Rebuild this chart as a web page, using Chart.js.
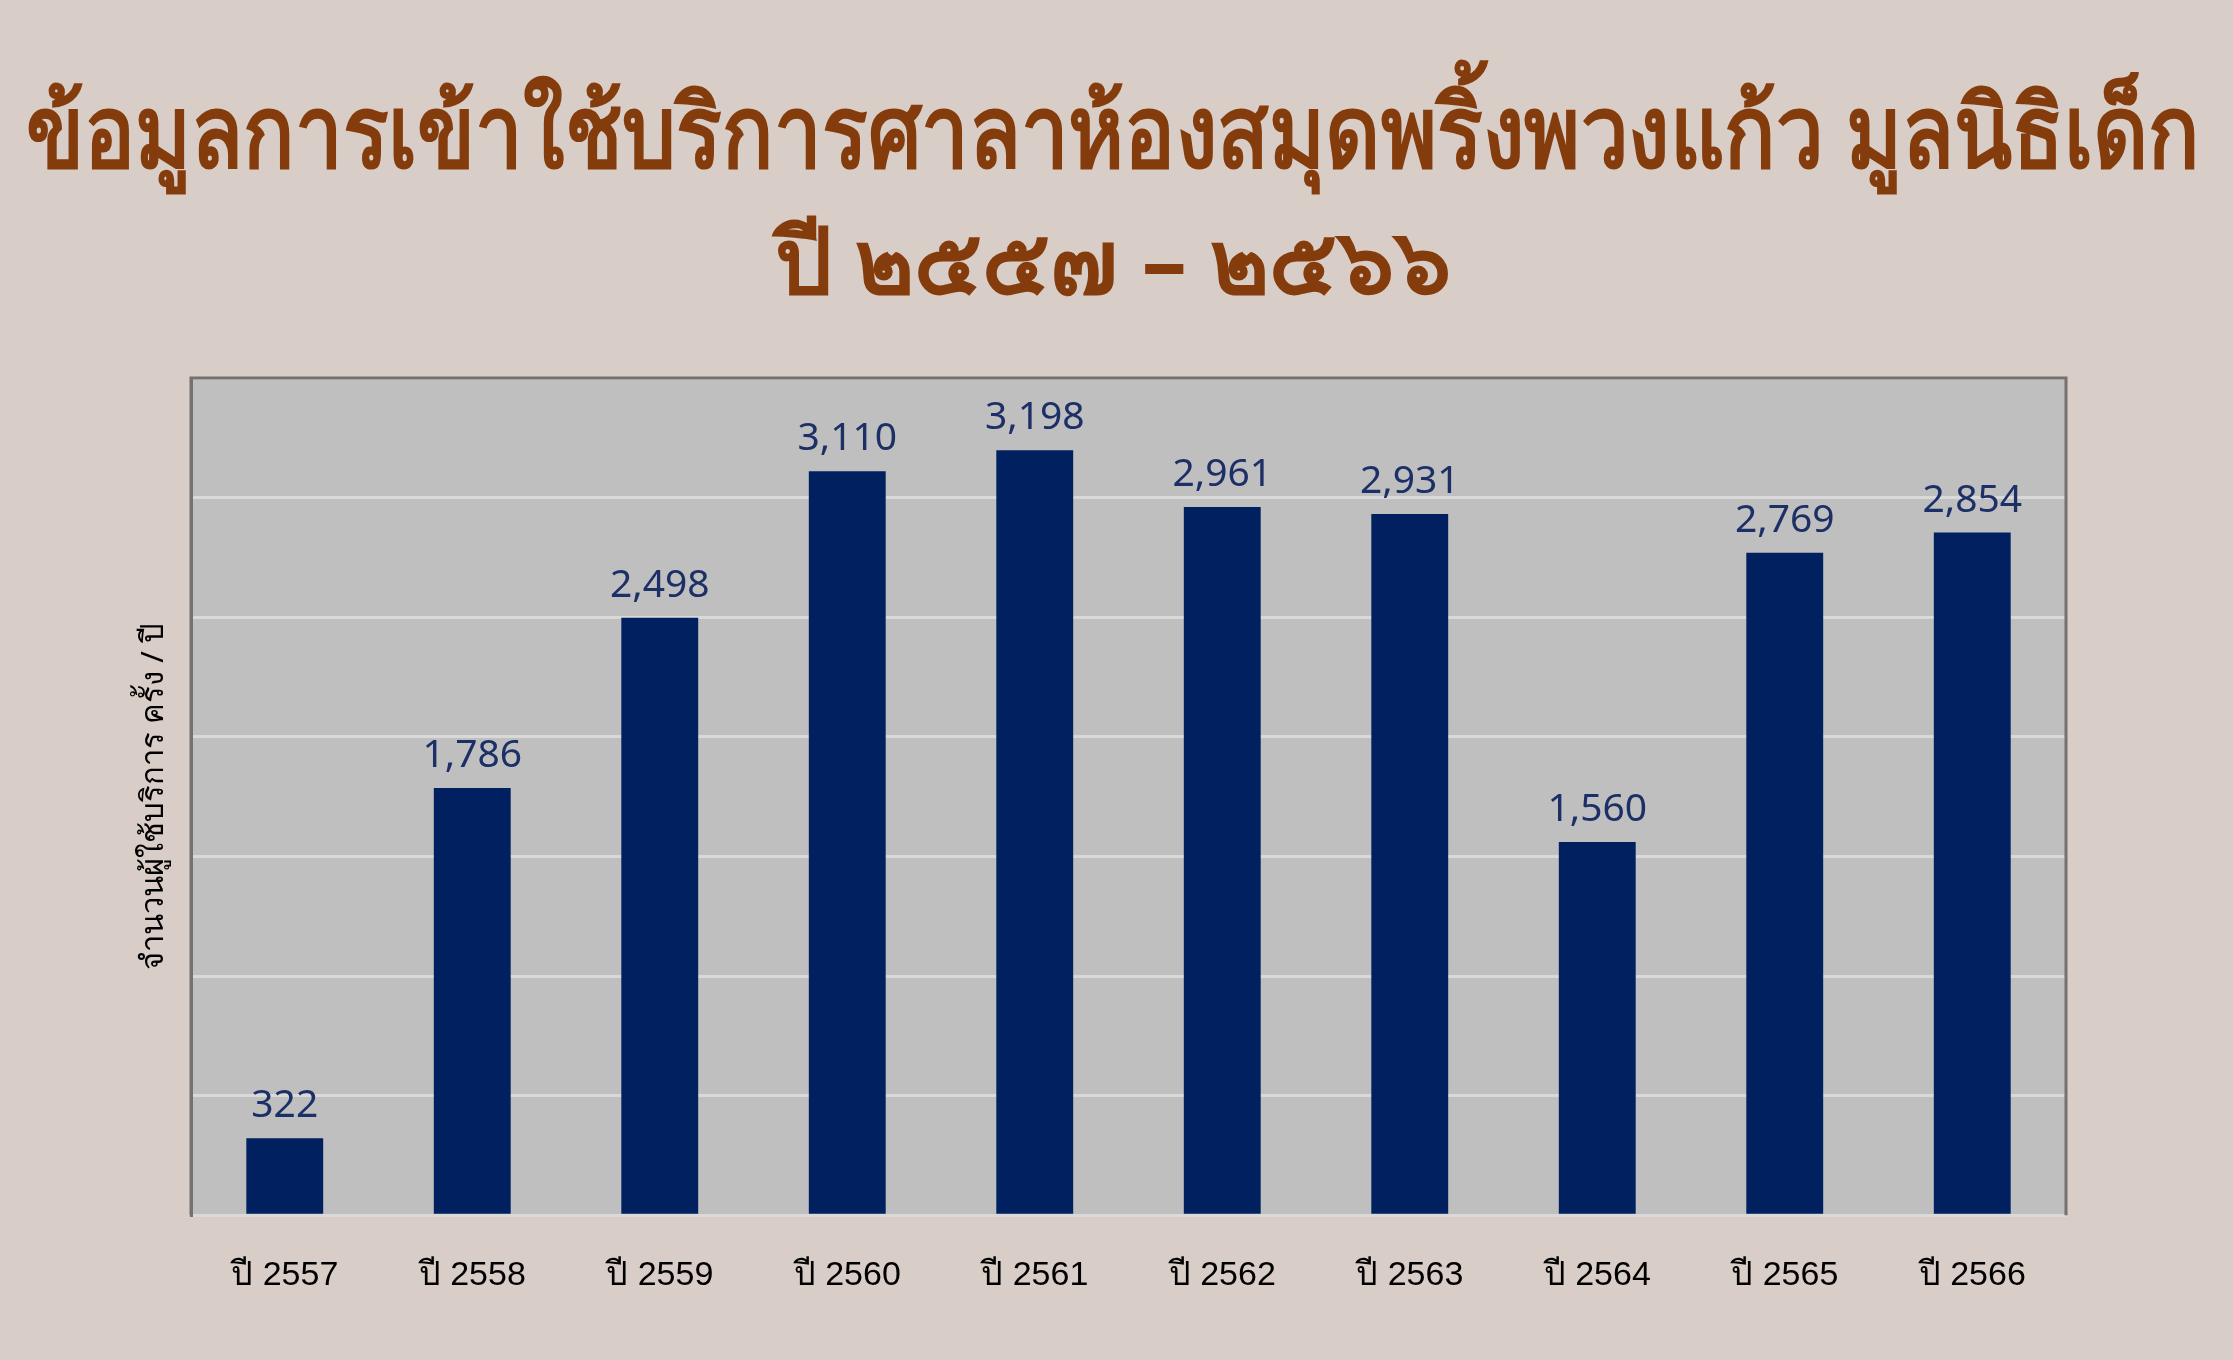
<!DOCTYPE html>
<html>
<head>
<meta charset="utf-8">
<script src="https://cdn.jsdelivr.net/npm/chart.js@4.4.1/dist/chart.umd.min.js"></script>
<style>
  html, body { margin: 0; padding: 0; background: #d9cdc7; }
  canvas { display: block; }
</style>
</head>
<body>
<canvas id="chart" width="2233" height="1360"></canvas>
<script>
// data
var years = ['ปี 2557', 'ปี 2558', 'ปี 2559', 'ปี 2560', 'ปี 2561', 'ปี 2562', 'ปี 2563', 'ปี 2564', 'ปี 2565', 'ปี 2566'];
var visits = [322, 1786, 2498, 3110, 3198, 2961, 2931, 1560, 2769, 2854];
var titleText = 'ข้อมูลการเข้าใช้บริการศาลาห้องสมุดพริ้งพวงแก้ว มูลนิธิเด็ก';
var subtitleText = 'ปี ๒๕๕๗ – ๒๕๖๖';
var yTitle = 'จำนวนผู้ใช้บริการ ครั้ง / ปี';

// grey plot box with dark frame on top / left / right
var plotBox = {
    id: 'plotBox',
    beforeDraw: function(chart) {
        var a = chart.chartArea;
        var ctx = chart.ctx;
        ctx.save();
        ctx.fillStyle = '#bfbfbf';
        ctx.fillRect(a.left, a.top, a.right - a.left, a.bottom - a.top);
        ctx.restore();
    },
    afterDraw: function(chart) {
        var a = chart.chartArea;
        var ctx = chart.ctx;
        ctx.save();
        ctx.strokeStyle = '#767171';
        ctx.lineWidth = 3;
        ctx.beginPath();
        ctx.moveTo(a.left, a.bottom);
        ctx.lineTo(a.left, a.top);
        ctx.lineTo(a.right, a.top);
        ctx.lineTo(a.right, a.bottom);
        ctx.stroke();
        ctx.restore();
    }
};

// value labels above the bars
var barLabels = {
    id: 'barLabels',
    afterDatasetsDraw: function(chart) {
        var ctx = chart.ctx;
        var meta = chart.getDatasetMeta(0);
        ctx.save();
        ctx.font = '39px "Noto Sans", sans-serif';
        ctx.fillStyle = '#1c2f66';
        ctx.textAlign = 'center';
        ctx.textBaseline = 'alphabetic';
        meta.data.forEach(function(bar, i) {
            ctx.fillText(visits[i].toLocaleString('en-US'), bar.x, bar.y - 21);
        });
        ctx.restore();
    }
};

var ctx = document.getElementById('chart').getContext('2d');
var chart = new Chart(ctx, {
    type: 'bar',
    data: {
        labels: years,
        datasets: [{
            data: visits,
            backgroundColor: '#002060',
            borderWidth: 0,
            categoryPercentage: 1,
            barPercentage: 0.41
        }]
    },
    options: {
        responsive: false,
        animation: false,
        devicePixelRatio: 1,
        layout: {
            // left/right padding also limits the title width
            padding: { left: 26, right: 33, top: 0, bottom: 24 }
        },
        plugins: {
            legend: { display: false },
            tooltip: { enabled: false },
            title: {
                display: true,
                text: titleText,
                color: '#843c0c',
                font: { size: 100, weight: 'bold', family: 'Tahoma, "Noto Sans", sans-serif', lineHeight: '128px' },
                padding: { top: 75, bottom: 0 }
            },
            subtitle: {
                display: true,
                text: subtitleText,
                color: '#843c0c',
                font: { size: 90, weight: 'bold', family: 'Tahoma, "Noto Sans", sans-serif', lineHeight: '128px' },
                padding: { top: 0, bottom: 47 }
            }
        },
        scales: {
            x: {
                grid: { display: false, drawTicks: false },
                border: { display: true, color: '#d9d9d9', width: 3 },
                ticks: {
                    color: '#000000',
                    padding: 40,
                    font: { size: 34, family: '"Liberation Sans", Arial, sans-serif' }
                }
            },
            y: {
                min: 0,
                max: 3500,
                ticks: { display: false, stepSize: 500 },
                grid: { color: '#d9d9d9', lineWidth: 3, drawTicks: false },
                border: { display: true, color: '#767171', width: 3 },
                title: {
                    display: true,
                    text: yTitle,
                    color: '#000000',
                    font: { size: 31, family: 'Tahoma, "Noto Sans", sans-serif', lineHeight: '36px' },
                    padding: { top: 110, bottom: 19 }
                }
            },
            // empty right-hand axis that only reserves the margin right of the plot
            spacer: {
                position: 'right',
                display: true,
                ticks: { display: false },
                grid: { display: false, drawTicks: false },
                border: { display: false },
                afterFit: function(scale) { scale.width = 134; }
            }
        }
    },
    plugins: [plotBox, barLabels]
});
</script>
</body>
</html>
